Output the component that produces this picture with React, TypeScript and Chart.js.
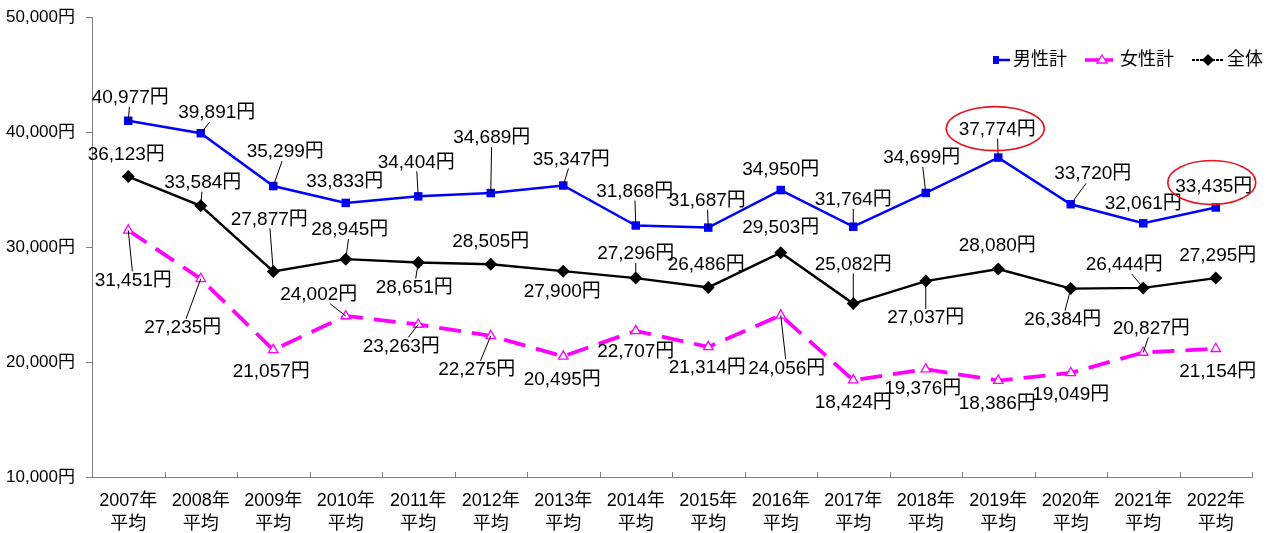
import React, { useEffect, useRef } from "react";
import { Chart, registerables } from "chart.js";

Chart.register(...registerables);

// ---------- data ----------
const years = ["2007年", "2008年", "2009年", "2010年", "2011年", "2012年", "2013年", "2014年", "2015年", "2016年", "2017年", "2018年", "2019年", "2020年", "2021年", "2022年"];
const subLabel = "平均";
const maleValues = [40977, 39891, 35299, 33833, 34404, 34689, 35347, 31868, 31687, 34950, 31764, 34699, 37774, 33720, 32061, 33435];
const femaleValues = [31451, 27235, 21057, 24002, 23263, 22275, 20495, 22707, 21314, 24056, 18424, 19376, 18386, 19049, 20827, 21154];
const totalValues = [36123, 33584, 27877, 28945, 28651, 28505, 27900, 27296, 26486, 29503, 25082, 27037, 28080, 26384, 26444, 27295];
const yTickValues = [10000, 20000, 30000, 40000, 50000];
const seriesNames = ["男性計", "女性計", "全体"];

// ---------- label layout (pixel offsets from each point) ----------
const maleLabelOffsets = [[2, -23], [16, -20], [12, -34], [-1, -21], [-2, -34], [1, -55], [8, -26], [-1, -34], [-1, -27], [0, -20], [0, -27], [-4, -35], [-1, -28], [22, -30], [0, -20], [-2, -21]];
const femaleLabelOffsets = [[5, 50], [-18, 49], [-2, 22], [-27, -21], [-17, 22], [-14, 34], [-1, 23], [0, 21], [-1, 21], [6, 53], [0, 23], [-3, 20], [-1, 23], [0, 22], [8, -24], [2, 23]];
const totalLabelOffsets = [[-2, -22], [2, -23], [-4, -52], [4, -29], [-4, 25], [0, -22], [-1, 21], [0, -24], [-2, -23], [0, -25], [0, -39], [0, 37], [-1, -23], [-8, 31], [-19, -23], [2, -22]];
const maleLeaders = [0, 1, 2, 4, 5, 6, 7, 8, 10, 11, 12, 13];
const femaleLeaders = [0, 1, 3, 4, 5, 9, 14];
const totalLeaders = [1, 2, 3, 4, 7, 10, 11, 13, 14];
// highlighted male labels: [index, ellipse dx, ellipse dy, rx, ry] relative to label centre
const maleHighlights = [[12, -2, -1, 49, 22], [15, -2, -4, 44, 22]];

const FONT_FAMILY = "'Liberation Sans', Arial, 'Noto Sans CJK JP', sans-serif";
const BLUE = "#0000FF";
const MAGENTA = "#FF00FF";
const BLACK = "#000000";

const fmt = (v: number) => v.toLocaleString("en-US");

const labelCfg = [
  { offsets: maleLabelOffsets, leaders: maleLeaders, highlights: maleHighlights },
  { offsets: femaleLabelOffsets, leaders: femaleLeaders, highlights: [] as number[][] },
  { offsets: totalLabelOffsets, leaders: totalLeaders, highlights: [] as number[][] },
];

const labelsPlugin = {
  id: "valueLabels",
  afterDatasetsDraw(chart: any) {
    const ctx = chart.ctx as CanvasRenderingContext2D;
    ctx.save();
    ctx.font = `19px ${FONT_FAMILY}`;
    ctx.textAlign = "center";
    ctx.textBaseline = "middle";
    chart.data.datasets.forEach((ds: any, di: number) => {
      const meta = chart.getDatasetMeta(di);
      const cfg = labelCfg[di];
      meta.data.forEach((pt: any, i: number) => {
        const [dx, dy] = cfg.offsets[i];
        const cx = pt.x + dx;
        const cy = pt.y + dy;
        const text = fmt(ds.data[i]) + "円";
        const w = ctx.measureText(text).width;
        if (cfg.leaders.includes(i)) {
          const hw = w / 2 + 1;
          const hh = 9;
          const vx = pt.x - cx;
          const vy = pt.y - cy;
          const tx = vx !== 0 ? hw / Math.abs(vx) : Infinity;
          const ty = vy !== 0 ? hh / Math.abs(vy) : Infinity;
          const t = Math.min(tx, ty);
          if (t < 1) {
            ctx.beginPath();
            ctx.strokeStyle = "#000";
            ctx.lineWidth = 1;
            ctx.moveTo(pt.x, pt.y);
            ctx.lineTo(cx + vx * t, cy + vy * t);
            ctx.stroke();
          }
        }
        ctx.fillStyle = "#000";
        ctx.fillText(text, cx, cy);
        const hl = cfg.highlights.find((h) => h[0] === i);
        if (hl) {
          ctx.beginPath();
          ctx.strokeStyle = "#E8141E";
          ctx.lineWidth = 1.6;
          ctx.ellipse(cx + hl[1], cy + hl[2], hl[3], hl[4], 0, 0, Math.PI * 2);
          ctx.stroke();
        }
      });
    });
    ctx.restore();
  },
};

const decorPlugin = {
  id: "decor",
  afterDraw(chart: any) {
    const ctx = chart.ctx as CanvasRenderingContext2D;
    const area = chart.chartArea;
    ctx.save();
    // x-axis inward tick marks at category boundaries
    ctx.strokeStyle = "#808080";
    ctx.lineWidth = 1;
    const n = years.length;
    for (let i = 1; i <= n; i++) {
      const x = Math.round(area.left + ((area.right - area.left) * i) / n) + 0.5;
      ctx.beginPath();
      ctx.moveTo(x, area.bottom);
      ctx.lineTo(x, area.bottom - 5);
      ctx.stroke();
    }
    // legend
    const ly = 60;
    ctx.font = `18px ${FONT_FAMILY}`;
    ctx.textBaseline = "middle";
    ctx.textAlign = "left";
    ctx.fillStyle = "#000";
    // male
    ctx.strokeStyle = BLUE;
    ctx.lineWidth = 2.5;
    ctx.beginPath();
    ctx.moveTo(996, ly);
    ctx.lineTo(1010, ly);
    ctx.stroke();
    ctx.fillStyle = BLUE;
    ctx.fillRect(993, ly - 4, 6, 8);
    ctx.fillStyle = "#000";
    ctx.fillText(seriesNames[0], 1013, ly);
    // female
    ctx.strokeStyle = MAGENTA;
    ctx.lineWidth = 3.5;
    ctx.beginPath();
    ctx.moveTo(1085, ly);
    ctx.lineTo(1113, ly);
    ctx.stroke();
    ctx.beginPath();
    ctx.moveTo(1102, ly - 5);
    ctx.lineTo(1107, ly + 3);
    ctx.lineTo(1097, ly + 3);
    ctx.closePath();
    ctx.fillStyle = "#fff";
    ctx.fill();
    ctx.lineWidth = 1.3;
    ctx.stroke();
    ctx.fillStyle = "#000";
    ctx.fillText(seriesNames[1], 1120, ly);
    // total
    ctx.strokeStyle = BLACK;
    ctx.lineWidth = 2;
    ctx.setLineDash([3, 1]);
    ctx.beginPath();
    ctx.moveTo(1192, ly);
    ctx.lineTo(1223, ly);
    ctx.stroke();
    ctx.setLineDash([]);
    ctx.beginPath();
    ctx.moveTo(1208, ly - 6);
    ctx.lineTo(1214, ly);
    ctx.lineTo(1208, ly + 6);
    ctx.lineTo(1202, ly);
    ctx.closePath();
    ctx.fillStyle = BLACK;
    ctx.fill();
    ctx.fillStyle = "#000";
    ctx.fillText(seriesNames[2], 1227, ly);
    ctx.restore();
  },
};

export default function App() {
  const canvasRef = useRef<HTMLCanvasElement | null>(null);

  useEffect(() => {
    const canvas = canvasRef.current;
    if (!canvas) return;
    const chart = new Chart(canvas, {
      type: "line",
      data: {
        labels: years.map((y) => [y, subLabel]),
        datasets: [
          {
            label: seriesNames[0],
            data: maleValues,
            borderColor: BLUE,
            backgroundColor: BLUE,
            borderWidth: 2.5,
            pointStyle: "rect",
            pointRadius: 6,
            pointBorderWidth: 0,
            pointBackgroundColor: BLUE,
            tension: 0,
          },
          {
            label: seriesNames[1],
            data: femaleValues,
            borderColor: MAGENTA,
            backgroundColor: "#fff",
            borderWidth: 3.8,
            borderDash: [22, 11],
            pointStyle: "triangle",
            pointRadius: 5.5,
            pointBorderWidth: 1.3,
            pointBorderColor: MAGENTA,
            pointBackgroundColor: "#fff",
            tension: 0,
          },
          {
            label: seriesNames[2],
            data: totalValues,
            borderColor: BLACK,
            backgroundColor: BLACK,
            borderWidth: 2.4,
            pointStyle: "rectRot",
            pointRadius: 6.5,
            pointBorderWidth: 0,
            pointBackgroundColor: BLACK,
            tension: 0,
          },
        ],
      },
      options: {
        responsive: false,
        animation: false,
        layout: { padding: { top: 17, right: 20, bottom: 0, left: 0 } },
        plugins: {
          legend: { display: false },
          tooltip: { enabled: false },
        },
        scales: {
          x: {
            type: "category",
            offset: true,
            grid: { display: true, drawOnChartArea: false, drawTicks: false },
            border: { display: true, color: "#808080", width: 1 },
            ticks: {
              color: "#000",
              padding: 12,
              autoSkip: false,
              maxRotation: 0,
              font: { family: FONT_FAMILY, size: 18, lineHeight: 1.3 },
            },
            afterFit: (scale: any) => {
              scale.height = 56;
              scale.paddingLeft = 0;
              scale.paddingRight = 0;
            },
          },
          y: {
            min: 10000,
            max: 50000,
            afterBuildTicks: (scale: any) => {
              scale.ticks = yTickValues.map((v) => ({ value: v }));
            },
            grid: { display: true, drawOnChartArea: false, drawTicks: true, tickLength: 6, color: "#808080" },
            border: { display: true, color: "#808080", width: 1 },
            ticks: {
              color: "#000",
              padding: 11,
              font: { family: FONT_FAMILY, size: 17 },
              callback: (v: any) => fmt(Number(v)) + "円",
            },
            afterFit: (scale: any) => {
              scale.width = 92;
              scale.paddingTop = 0;
              scale.paddingBottom = 0;
            },
          },
        },
      },
      plugins: [labelsPlugin, decorPlugin],
    } as any);
    return () => chart.destroy();
  }, []);

  return (
    <div style={{ position: "fixed", left: 0, top: 0, width: 1272, height: 533, background: "#fff" }}>
      <canvas ref={canvasRef} width={1272} height={533} style={{ width: 1272, height: 533, display: "block" }} />
    </div>
  );
}
